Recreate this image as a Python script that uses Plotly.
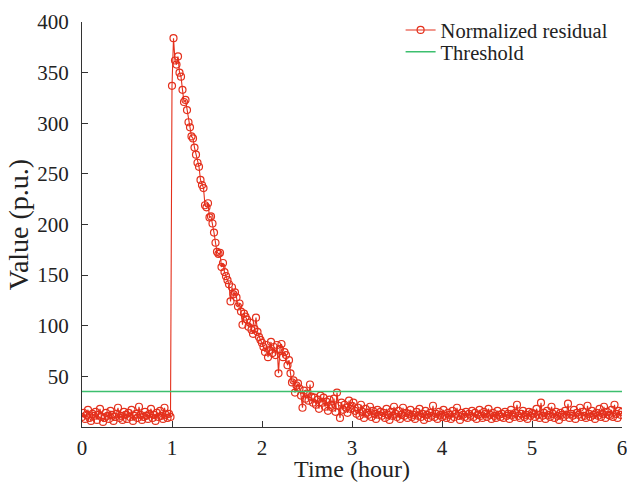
import plotly.graph_objects as go

# one sample per minute, 0 .. 360 min
minutes = list(range(0, 361))

residual_before = [
    10, 14, 8, 12, 17, 9, 6, 13, 11, 15,
    7, 12, 18, 10, 5, 9, 14, 11, 8, 16,
    12, 6, 10, 13, 19, 9, 11, 7, 15, 12,
    8, 14, 10, 17, 6, 11, 13, 9, 20, 12,
    7, 10, 15, 11, 8, 13, 18, 9, 12, 6,
    14, 10, 16, 11, 8, 19, 12, 9, 13, 10,
]

residual_fault = [
    337, 384, 362, 358, 366, 350, 346, 333, 321, 323,
    313, 301, 296, 287, 285, 276, 269, 261, 257, 244,
    239, 236, 219, 217, 221, 207, 208, 201, 192, 182,
    173, 171, 172, 158, 162, 153, 149, 145, 141, 124,
    138, 131, 133, 128, 119, 122, 114, 101, 112, 109,
    106, 99, 103, 96, 92, 97, 108, 94, 89, 86,
    83, 79, 74, 81, 69, 76, 84, 73, 79, 71,
    81, 53, 77, 82, 69, 74, 71, 61, 66, 53,
    44, 46, 34, 41, 43, 38, 31, 19, 36, 28,
    33, 26, 42, 30, 24, 29, 22, 27, 18, 31,
    24, 29, 20, 25, 16, 27, 22, 19, 28, 15,
    34, 21, 9, 24, 17, 22, 19, 14, 26, 18,
    21,
]

residual_after = [
    24, 16, 13, 19, 11, 22, 15, 9, 18, 14, 12, 20, 10, 16, 13, 8, 17, 12, 15, 11,
    14, 9, 18, 12, 7, 15, 11, 20, 13, 10, 16, 8, 12, 19, 11, 14, 9, 13, 17, 10,
    12, 8, 15, 11, 18, 10, 13, 7, 16, 12, 9, 14, 11, 21, 10, 13, 8, 15, 12, 10,
    17, 11, 9, 14, 12, 8, 16, 10, 13, 19, 11, 7, 14, 12, 10, 15, 9, 13, 11, 16,
    10, 14, 8, 12, 17, 11, 9, 15, 13, 10, 18, 12, 8, 14, 11, 9, 16, 12, 10, 13,
    9, 15, 11, 13, 8, 17, 12, 10, 14, 22, 11, 9, 13, 16, 10, 12, 8, 15, 11, 14,
    13, 10, 18, 12, 9, 24, 11, 14, 8, 16, 12, 10, 20, 13, 9, 15, 11, 7, 14, 12,
    10, 16, 12, 23, 9, 13, 11, 17, 8, 14, 12, 19, 10, 15, 11, 9, 21, 13, 10, 16,
    12, 8, 14, 11, 18, 10, 13, 20, 9, 15, 12, 11, 17, 10, 22, 13, 9, 16, 12, 15,
]

residual = residual_before + residual_fault + residual_after
time_hour = [m / 60 for m in minutes]

threshold_x = [0, 6]
threshold_y = [35, 35]

red = "#e4301c"
green = "#3cbf6e"
font = "Liberation Serif"

fig = go.Figure()
fig.add_trace(go.Scatter(x=time_hour, y=residual, mode="lines+markers",
                         name="Normalized residual", legend="legend",
                         line=dict(color=red, width=1.1),
                         marker=dict(symbol="circle-open", size=7, color=red,
                                     line=dict(width=1.2, color=red))))
fig.add_trace(go.Scatter(x=threshold_x, y=threshold_y, mode="lines",
                         name="Threshold", legend="legend2",
                         line=dict(color=green, width=1.4)))

axis_common = dict(showline=True, linecolor="#333333", linewidth=1,
                   ticks="inside", ticklen=6, tickcolor="#333333",
                   showgrid=False, zeroline=False, automargin=False,
                   ticklabeloverflow="allow",
                   tickfont=dict(family=font, size=21, color="#222222"))

legend_common = dict(xanchor="left", yanchor="middle", itemwidth=30,
                     bgcolor="rgba(0,0,0,0)", font=dict(family=font, size=20.5))

fig.update_layout(
    width=627, height=482,
    margin=dict(l=82, r=5, t=22, b=55),
    paper_bgcolor="white", plot_bgcolor="white",
    font=dict(family=font, color="#222222"),
    xaxis=dict(range=[0, 6], tickvals=[0, 1, 2, 3, 4, 5, 6],
               ticklabelstandoff=2,
               title=dict(text="Time (hour)", font=dict(family=font, size=24),
                          standoff=9),
               **axis_common),
    yaxis=dict(range=[0, 400], tickvals=[50, 100, 150, 200, 250, 300, 350, 400],
               ticklabelstandoff=8,
               title=dict(text="Value (p.u.)", font=dict(family=font, size=28),
                          standoff=0),
               **axis_common),
    legend=dict(x=0.59, y=0.980, **legend_common),
    legend2=dict(x=0.59, y=0.926, **legend_common),
    showlegend=True,
)

# drop the default 8px page margin so the figure fills the window
fig.write_html("out.html",
               config={"displayModeBar": False},
               post_script="document.body.style.margin='0';"
                           "document.body.style.overflow='hidden';")
